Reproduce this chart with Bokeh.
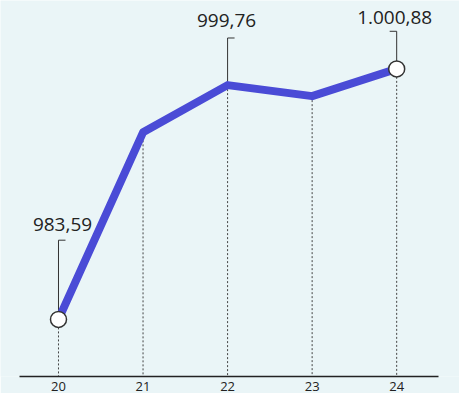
from bokeh.plotting import figure
from bokeh.models import Range1d, FixedTicker, ColumnDataSource
from bokeh.embed import file_html
from bokeh.resources import INLINE
from bokeh.core.properties import value

# ---- data ----
years = [20, 21, 22, 23, 24]
index_values = [983.59, 996.5, 999.76, 999.0, 1000.88]
tick_labels = ["20", "21", "22", "23", "24"]
label_years = [20, 22, 24]
label_values = [983.59, 999.76, 1000.88]
label_texts = ["983,59", "999,76", "1.000,88"]
marker_years = [20, 24]
marker_values = [983.59, 1000.88]

# ---- layout / style ----
W, H = 459, 393
FRAME_H = 375
X0, X1 = 19.314, 24.743
Y0, Y1 = 979.65, 1005.60
ppu_y = FRAME_H / (Y1 - Y0)
ppu_x = W / (X1 - X0)

leader_px = [79, 47, 37.5]        # leader length in px above the point
bracket_dir = [1, 1, -1]          # direction of the small bracket tick
label_dx = [4, -1, -2]
label_dy = [-95, -65, -51]

BG = "#eaf5f7"
BLUE = "#4a4bd6"
INK = "#222222"

p = figure(width=W, height=H, output_backend="svg", toolbar_location=None,
           x_range=Range1d(X0, X1), y_range=Range1d(Y0, Y1),
           y_axis_location=None, min_border=0)
p.background_fill_color = BG
p.border_fill_color = BG
p.outline_line_color = None
p.grid.visible = False

# dotted drop lines
p.segment(x0=years, y0=index_values, x1=years, y1=[Y0] * len(years),
          line_color="#444444", line_width=1, line_dash="2 2")

# leaders with bracket ticks
tops = [v + px / ppu_y for v, px in zip(label_values, leader_px)]
p.segment(x0=label_years, y0=label_values, x1=label_years, y1=tops,
          line_color="#333333", line_width=1)
tick_end = [x + d * 7 / ppu_x for x, d in zip(label_years, bracket_dir)]
p.segment(x0=label_years, y0=tops, x1=tick_end, y1=tops,
          line_color="#333333", line_width=1)

# main line
p.line(years, index_values, line_color=BLUE, line_width=8,
       line_join="round", line_cap="round")

# end markers
p.scatter(marker_years, marker_values, size=16, fill_color="white",
          line_color="#333333", line_width=1.5)

# value labels
src = ColumnDataSource(dict(x=label_years, y=label_values, t=label_texts,
                            dx=label_dx, dy=label_dy))
p.text(x="x", y="y", text="t", x_offset="dx", y_offset="dy", source=src,
       text_align="center", text_baseline="alphabetic",
       text_font=value("Open Sans"), text_font_size="19px", text_color=INK)

# x axis
ax = p.xaxis[0]
ax.ticker = FixedTicker(ticks=years)
ax.major_label_overrides = {y: l for y, l in zip(years, tick_labels)}
ax.bounds = (19.542, 24.491)
ax.axis_line_color = INK
ax.axis_line_width = 1.5
ax.major_tick_in = 0
ax.major_tick_out = 0
ax.minor_tick_in = 0
ax.minor_tick_out = 0
ax.major_label_standoff = 5
ax.major_label_text_font = "Open Sans"
ax.major_label_text_font_size = "13px"
ax.major_label_text_color = INK

open("out.html", "w").write(file_html(p, INLINE))
